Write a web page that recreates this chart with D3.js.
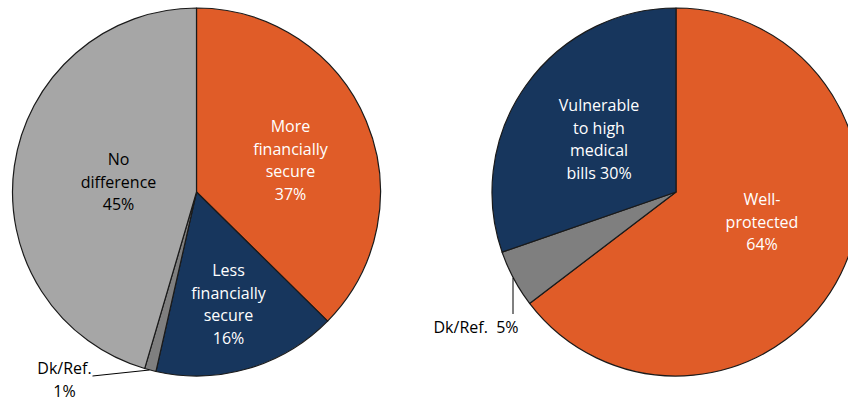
<!DOCTYPE html>
<html>
<head>
<meta charset="utf-8">
<script src="https://cdn.jsdelivr.net/npm/d3@7"></script>
<style>
  html, body { margin: 0; padding: 0; background: #fff; }
  svg text { font-family: "Open Sans", Lato, sans-serif; font-size: 16px; }
</style>
</head>
<body>
<svg id="chart" width="848" height="400"></svg>
<script>
// Left pie: perceived financial security
const leftCategories = ["More financially secure", "Less financially secure", "Dk/Ref.", "No difference"];
const leftValues = [37, 16, 1, 45];
const leftColors = ["#E05C28", "#17365D", "#7F7F7F", "#A6A6A6"];
const leftLabels = [
  ["More", "financially", "secure", "37%"],
  ["Less", "financially", "secure", "16%"],
  ["Dk/Ref.", "1%"],
  ["No", "difference", "45%"]
];

// Right pie: protection from medical bills
const rightCategories = ["Well-protected", "Dk/Ref.", "Vulnerable to high medical bills"];
const rightValues = [64, 5, 30];
const rightColors = ["#E05C28", "#7F7F7F", "#17365D"];
const rightLabels = [
  ["Well-", "protected", "64%"],
  ["Dk/Ref.\u00a0\u00a05%"],
  ["Vulnerable", "to high", "medical", "bills 30%"]
];

const svg = d3.select("#chart");
const R = 184;
const lineH = 22.5;

function drawPie(cx, cy, values, colors, labels, labelPos) {
  const g = svg.append("g").attr("transform", `translate(${cx},${cy})`);
  const pie = d3.pie().sort(null).value(d => d);
  const arcs = pie(values);
  const arc = d3.arc().innerRadius(0).outerRadius(R);

  g.selectAll("path.slice")
    .data(arcs)
    .join("path")
    .attr("class", "slice")
    .attr("d", arc)
    .attr("fill", (d, i) => colors[i])
    .attr("stroke", "#1a1a1a")
    .attr("stroke-width", 1.2)
    .attr("stroke-linejoin", "round");

  labels.forEach((lines, i) => {
    const p = labelPos[i];
    if (!p) return;
    const t = g.append("text")
      .attr("text-anchor", "middle")
      .attr("fill", p.color);
    lines.forEach((ln, k) => {
      t.append("tspan")
        .attr("x", p.x)
        .attr("y", p.y + k * lineH)
        .text(ln);
    });
    if (p.leader) {
      g.append("path")
        .attr("d", d3.line()(p.leader))
        .attr("fill", "none")
        .attr("stroke", "#000")
        .attr("stroke-width", 1);
    }
  });
  return { g, arcs };
}

const lcx = 196.5, lcy = 192;
const rcx = 676, rcy = 192;

drawPie(lcx, lcy, leftValues, leftColors, leftLabels, [
  { x: 94, y: -60, color: "#fff" },
  { x: 32, y: 84, color: "#fff" },
  { x: -132, y: 182, color: "#000", leader: [[-104, 184], [-47, 178]] },
  { x: -78, y: -27, color: "#000" }
]);

drawPie(rcx, rcy, rightValues, rightColors, rightLabels, [
  { x: 86, y: 13, color: "#fff" },
  { x: -200, y: 141, color: "#000", leader: [[-163, 122], [-163, 86]] },
  { x: -77, y: -81, color: "#fff" }
]);
</script>
</body>
</html>
